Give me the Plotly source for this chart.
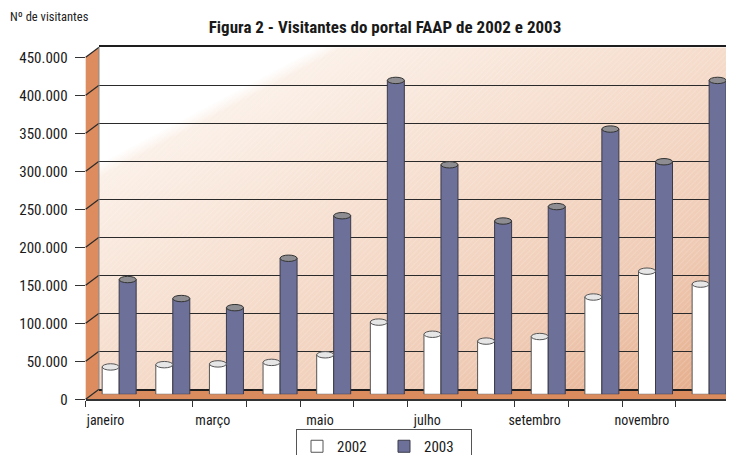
import base64
import plotly.graph_objects as go

# ---------------- data ----------------
months = ["janeiro", "fevereiro", "março", "abril", "maio", "junho",
          "julho", "agosto", "setembro", "outubro", "novembro", "dezembro"]
visitantes_2002 = [36000, 39000, 40000, 42000, 52000, 95000,
                   79000, 70000, 76000, 128000, 162000, 145000]
visitantes_2003 = [151000, 126000, 114000, 179000, 235000, 413000,
                   302000, 228000, 247000, 349000, 306000, 413000]
y_ticks = [0, 50000, 100000, 150000, 200000, 250000, 300000, 350000, 400000, 450000]
title_text = "Figura 2 - Visitantes do portal FAAP de 2002 e 2003"
y_title = "Nº de visitantes"

# ---------------- geometry helpers (page pixels -> paper) ----------------
W, H = 734, 470
OFF = 8  # default page body margin
FONT = "Roboto Condensed, Liberation Sans Narrow, Roboto, sans-serif"
def px(x):
    return (x - OFF) / W
def py(y):
    return 1 - (y - OFF) / H

FX0, FX1 = 85.7, 729.3       # front axis x-extent (page px)
FY0, FY1 = 399.3, 57.3       # front y for 0 and 450k
DX, DY = 13.3, 10.0          # depth offset of back wall
YMAX = 450000
n = len(months)
xs = list(range(1, n + 1))
XR = [0.5, n + 0.5]

def yfront(v):
    return FY0 - (FY0 - FY1) * v / YMAX

BX0, BX1 = FX0 + DX, FX1 + DX
# back wall gradient image (svg)
bw_w = BX1 - BX0
bw_h = FY0 - FY1
svg = f'''<svg xmlns="http://www.w3.org/2000/svg" width="{bw_w:.0f}" height="{bw_h:.0f}" viewBox="0 0 {bw_w:.0f} {bw_h:.0f}" preserveAspectRatio="none">
<defs>
<linearGradient id="g" x1="0" y1="0" x2="1" y2="1">
<stop offset="0" stop-color="#ffffff"/>
<stop offset="0.17" stop-color="#ffffff"/>
<stop offset="0.19" stop-color="#fbf0e8"/>
<stop offset="0.5" stop-color="#f5dbca"/>
<stop offset="0.75" stop-color="#efcbb5"/>
<stop offset="1" stop-color="#e4aa87"/>
</linearGradient>
<pattern id="h" width="4" height="4" patternUnits="userSpaceOnUse" patternTransform="rotate(45)">
<line x1="0" y1="0" x2="0" y2="4" stroke="#ffffff" stroke-width="1" stroke-opacity="0.3"/>
</pattern>
</defs>
<rect width="100%" height="100%" fill="url(#g)"/>
<rect width="100%" height="100%" fill="url(#h)"/>
</svg>'''
svg_uri = "data:image/svg+xml;base64," + base64.b64encode(svg.encode()).decode()

fig = go.Figure()

# empty helper traces so the front and back-wall subplots are created
fig.add_trace(go.Scatter(x=[], y=[], xaxis="x", yaxis="y", showlegend=False, hoverinfo="skip"))
fig.add_trace(go.Scatter(x=[], y=[], xaxis="x2", yaxis="y2", showlegend=False, hoverinfo="skip"))

BAR_W = 0.317
fig.add_trace(go.Bar(
    x=xs, y=visitantes_2002, name="2002", xaxis="x3", yaxis="y3",
    width=BAR_W, offset=-BAR_W,
    marker=dict(color="#ffffff", line=dict(color="#555555", width=1)),
))
fig.add_trace(go.Bar(
    x=xs, y=visitantes_2003, name="2003", xaxis="x3", yaxis="y3",
    width=BAR_W, offset=0,
    marker=dict(color="#6d7099", line=dict(color="#3a3a48", width=1)),
))

shapes = []
# left wall
shapes.append(dict(type="path", xref="paper", yref="paper", layer="below",
                   path=f"M {px(FX0)} {py(FY0)} L {px(FX0)} {py(FY1)} L {px(BX0)} {py(FY1-DY)} L {px(BX0)} {py(FY0-DY)} Z",
                   fillcolor="#dc8c5e", line=dict(width=0)))
# floor
shapes.append(dict(type="path", xref="paper", yref="paper", layer="below",
                   path=f"M {px(FX0)} {py(FY0)} L {px(BX0)} {py(FY0-DY)} L {px(BX1)} {py(FY0-DY)} L {px(FX1)} {py(FY0)} Z",
                   fillcolor="#da8c5f", line=dict(width=0)))
# diagonal grid lines on left wall
for v in y_ticks:
    shapes.append(dict(type="line", xref="paper", yref="paper", layer="above",
                       x0=px(FX0), y0=py(yfront(v)), x1=px(BX0), y1=py(yfront(v) - DY),
                       line=dict(color="#2a2a2a", width=1.2)))
# back wall left edge
shapes.append(dict(type="line", xref="paper", yref="paper", layer="above",
                   x0=px(BX0), y0=py(FY0 - DY), x1=px(BX0), y1=py(FY1 - DY),
                   line=dict(color="#8a8a8a", width=1)))
# cylinder top ellipses
eh = 3.2 / (FY0 - FY1) * YMAX
for k, v in zip(xs, visitantes_2002):
    shapes.append(dict(type="circle", xref="x3", yref="y3", layer="above",
                       x0=k - BAR_W, x1=k, y0=v - eh, y1=v + eh,
                       fillcolor="#e6e6e6", line=dict(color="#555555", width=1)))
for k, v in zip(xs, visitantes_2003):
    shapes.append(dict(type="circle", xref="x3", yref="y3", layer="above",
                       x0=k, x1=k + BAR_W, y0=v - eh, y1=v + eh,
                       fillcolor="#8e8e92", line=dict(color="#333333", width=1)))

hid = dict(showticklabels=False, ticks="", showline=False, zeroline=False, showgrid=False)

fig.update_layout(
    width=W, height=H,
    margin=dict(l=0, r=0, t=0, b=0, autoexpand=False),
    paper_bgcolor="#ffffff",
    plot_bgcolor="rgba(0,0,0,0)",
    separators=",.",
    font=dict(family=FONT, color="#222222", size=14),
    title=dict(text="<b>" + title_text + "</b>", x=px(385), y=py(27), xanchor="center", yanchor="middle",
               xref="paper", yref="paper",
               font=dict(family=FONT, size=17, color="#1a1a1a")),
    showlegend=True,
    legend=dict(orientation="h", x=px(384), xanchor="center", y=py(429), yanchor="top",
                bordercolor="#555555", borderwidth=1, bgcolor="#ffffff",
                font=dict(family=FONT, size=15, color="#1a1a1a"),
                entrywidth=42, itemwidth=30, traceorder="normal"),
    images=[dict(source=svg_uri, xref="paper", yref="paper",
                 x=px(BX0), y=py(FY1 - DY), sizex=bw_w / W, sizey=bw_h / H,
                 xanchor="left", yanchor="top", sizing="stretch", layer="below")],
    shapes=shapes,
    annotations=[dict(text=y_title, xref="paper", yref="paper", x=px(8), y=py(17),
                      xanchor="left", yanchor="middle", showarrow=False,
                      font=dict(family=FONT, size=12.5, color="#222222"))],
    # front axes (labels, ticks)
    xaxis=dict(domain=[px(FX0), px(FX1)], range=XR, anchor="y", automargin=False,
               tickmode="array", tickvals=xs[::2], ticktext=months[::2],
               ticks="", ticklabelshift=-7, ticklabelstandoff=7,
               showline=True, linecolor="#333333", linewidth=1.5,
               zeroline=False, showgrid=False,
               tickfont=dict(family=FONT, size=14, color="#1a1a1a"),
               minor=dict(tickvals=[i + 0.5 for i in range(0, n + 1)], ticks="outside",
                          ticklen=6, tickcolor="#333333", tickwidth=1.2, showgrid=False)),
    yaxis=dict(domain=[py(FY0), py(FY1)], range=[0, YMAX], anchor="x", automargin=False,
               tickmode="array", tickvals=y_ticks, tickformat=",d",
               ticks="outside", ticklen=10, tickcolor="#333333", tickwidth=1.2,
               ticklabelstandoff=4,
               showline=False, zeroline=False, showgrid=False,
               tickfont=dict(family=FONT, size=15, color="#1a1a1a")),
    # back wall axes (grid)
    xaxis2=dict(domain=[px(BX0), min(1, px(BX1))], range=XR, anchor="y2", automargin=False,
                showticklabels=False, ticks="", zeroline=False, showgrid=False,
                showline=True, linecolor="#1e1e1e", linewidth=2, mirror=True),
    yaxis2=dict(domain=[py(FY0 - DY), py(FY1 - DY)], range=[0, YMAX], anchor="x2", automargin=False,
                tickmode="array", tickvals=y_ticks, showgrid=True, gridcolor="#2a2a2a", gridwidth=1.3,
                showticklabels=False, ticks="", showline=False, zeroline=False),
    # bars axes (mid depth)
    xaxis3=dict(domain=[px(FX0 + DX / 2), px(FX1 + DX / 2)], range=XR, anchor="y3", automargin=False, **hid),
    yaxis3=dict(domain=[py(FY0 - DY / 2), py(FY1 - DY / 2)], range=[0, YMAX], anchor="x3", automargin=False, **hid),
)

fig.write_html("out.html")
